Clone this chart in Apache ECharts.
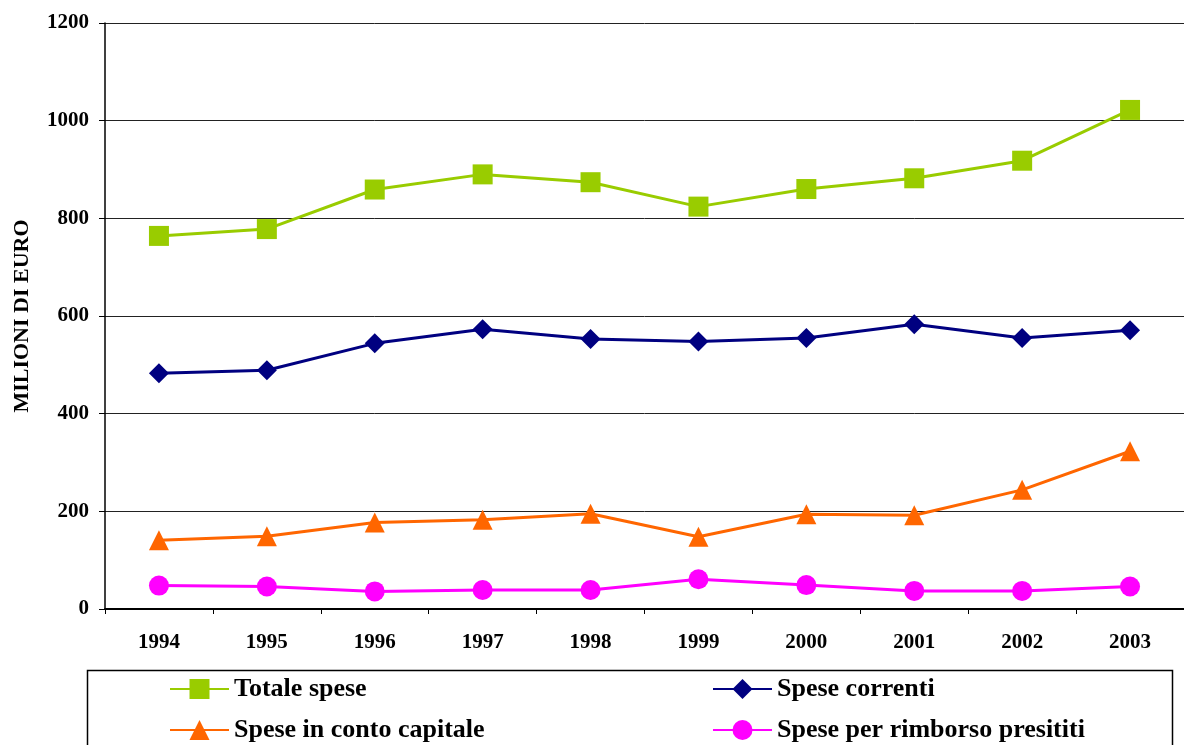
<!DOCTYPE html>
<html>
<head>
<meta charset="utf-8">
<script src="https://cdn.jsdelivr.net/npm/echarts@6/dist/echarts.min.js"></script>
<style>html,body{margin:0;padding:0;background:#fff;}#c{width:1184px;height:745px;}</style>
</head>
<body>
<div id="c"></div>
<script>
var years = ['1994','1995','1996','1997','1998','1999','2000','2001','2002','2003'];
var totaleSpese = [764, 778, 859, 890, 874, 824, 860, 882, 918, 1022];
var speseCorrenti = [483, 489, 544, 573, 553, 548, 555, 583, 555, 571];
var speseCapitale = [141, 149, 177, 183, 195, 148, 194, 192, 244, 323];
var speseRimborso = [48, 46, 36, 39, 39, 61, 49, 37, 37, 46];
var yTicks = [0, 200, 400, 600, 800, 1000, 1200];

var FONT = '"Liberation Serif", "Times New Roman", serif';
var chart = echarts.init(document.getElementById('c'), null, {renderer: 'canvas'});
function mk(name, data, color, symbol, size) {
  return {
    name: name, type: 'line', data: data,
    symbol: symbol, symbolSize: size, showSymbol: true,
    lineStyle: {color: color, width: 3},
    itemStyle: {color: color},
    emphasis: {disabled: true},
    animation: false, z: 3
  };
}
var legendCommon = {
  orient: 'vertical', top: 671, height: 100, itemGap: 15,
  itemWidth: 59, itemHeight: 25, itemTextGap: 6,
  textStyle: {color: '#000', fontFamily: FONT, fontWeight: 'bold', fontSize: 26},
  selectedMode: false
};
chart.setOption({
  animation: false,
  backgroundColor: '#fff',
  grid: {left: 105, top: 23, bottom: 136, width: 1090, containLabel: false},
  xAxis: {
    type: 'category', data: years, boundaryGap: true,
    axisLine: {show: true, lineStyle: {color: '#000', width: 2}},
    axisTick: {show: true, length: 5, lineStyle: {color: '#000', width: 1}},
    axisLabel: {color: '#000', fontFamily: FONT, fontWeight: 'bold', fontSize: 21, margin: 23}
  },
  yAxis: {
    type: 'value', min: yTicks[0], max: yTicks[yTicks.length-1], interval: 200,
    name: 'MILIONI DI EURO', nameLocation: 'middle', nameGap: 72, nameRotate: 90,
    nameTextStyle: {color: '#000', fontFamily: FONT, fontWeight: 'bold', fontSize: 22},
    axisLine: {show: true, lineStyle: {color: '#000', width: 1.5}},
    axisTick: {show: true, length: 6, lineStyle: {color: '#000'}},
    axisLabel: {color: '#000', fontFamily: FONT, fontWeight: 'bold', fontSize: 21, margin: 16,
      formatter: function (v) { return String(v); }},
    splitLine: {show: true, lineStyle: {color: '#222', width: 1}}
  },
  legend: [
    Object.assign({data: ['Totale spese', 'Spese in conto capitale'], left: 164}, legendCommon),
    Object.assign({data: ['Spese correnti', 'Spese per rimborso presititi'], left: 707}, legendCommon)
  ],
  graphic: [{
    type: 'rect', left: 85, top: 668, silent: true,
    shape: {width: 1085, height: 100},
    style: {fill: 'none', stroke: '#000', lineWidth: 1.5}
  }],
  series: [
    mk('Totale spese', totaleSpese, '#99CC00', 'rect', 20),
    mk('Spese correnti', speseCorrenti, '#000080', 'diamond', 20),
    mk('Spese in conto capitale', speseCapitale, '#FF6600', 'triangle', 20),
    mk('Spese per rimborso presititi', speseRimborso, '#FF00FF', 'circle', 20)
  ]
});
</script>
</body>
</html>
